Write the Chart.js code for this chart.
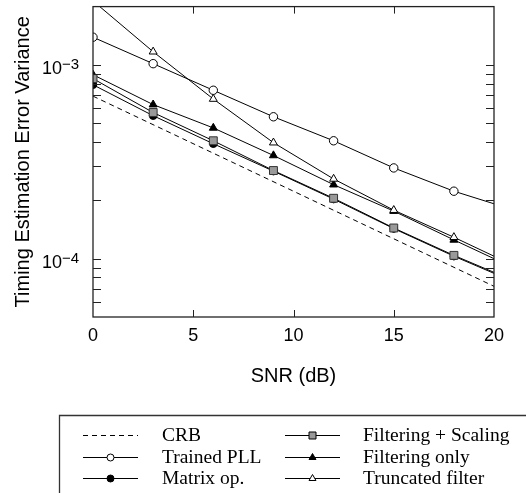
<!DOCTYPE html>
<html>
<head>
<meta charset="utf-8">
<script src="https://cdn.jsdelivr.net/npm/chart.js@4.4.1/dist/chart.umd.min.js"></script>
<style>
  html, body { margin: 0; padding: 0; background: #fff; }
  #wrap { width: 526px; height: 493px; position: relative; }
</style>
</head>
<body>
<div id="wrap"><canvas id="chart"></canvas></div>
<script>
// values (SNR in dB, variance)
const SNR = [0, 3, 6, 9, 12, 15, 18, 20];
const CRB_SNR = [0, 20];
const crb = [6.9e-4, 7.2e-5];
const trainedPll = [1.39e-3, 1.015e-3, 7.4e-4, 5.4e-4, 4.06e-4, 2.94e-4, 2.23e-4, 1.92e-4];
const matrixOp = [7.9e-4, 5.47e-4, 3.92e-4, 2.83e-4, 2.03e-4, 1.43e-4, 1.03e-4, 8.4e-5];
const filtScaling = [8.5e-4, 5.68e-4, 4.06e-4, 2.85e-4, 2.05e-4, 1.44e-4, 1.04e-4, 8.5e-5];
const filtOnly = [8.9e-4, 6.24e-4, 4.73e-4, 3.41e-4, 2.41e-4, 1.76e-4, 1.25e-4, 1.0e-4];
const truncated = [2.14e-3, 1.17e-3, 6.67e-4, 3.97e-4, 2.58e-4, 1.78e-4, 1.29e-4, 1.03e-4];

const X_TICKS = [5, 10, 15];
const Y_DECADES = [1e-4, 1e-3];
const Y_MINOR = [6e-5, 7e-5, 8e-5, 9e-5, 2e-4, 3e-4, 4e-4, 5e-4, 6e-4, 7e-4, 8e-4, 9e-4];

const pts = (xs, ys) => xs.map((x, i) => ({ x, y: ys[i] }));
// no marker at the clipped start / at the 20 dB line end
const radii = (r, skip) => SNR.map((x, i) => (skip.includes(i) ? 0 : r));

const base = { borderColor: "#000", borderWidth: 1, pointBorderColor: "#000", pointBorderWidth: 1 };
const datasets = [
  { ...base, label: "CRB", data: pts(CRB_SNR, crb), borderDash: [5, 4], pointRadius: 0, order: 6 },
  { ...base, label: "Trained PLL", data: pts(SNR, trainedPll), pointStyle: "circle", pointRadius: radii(4.2, [7]), pointBackgroundColor: "#fff", order: 5 },
  { ...base, label: "Matrix op.", data: pts(SNR, matrixOp), pointStyle: "circle", pointRadius: radii(3.8, [7]), pointBackgroundColor: "#000", order: 4 },
  { ...base, label: "Filtering + Scaling", data: pts(SNR, filtScaling), pointStyle: "rect", pointRadius: radii(5.6, [7]), pointBackgroundColor: "#999", pointBorderColor: "#333", order: 1 },
  { ...base, label: "Filtering only", data: pts(SNR, filtOnly), pointStyle: "triangle", pointRadius: radii(4.6, [7]), pointBackgroundColor: "#000", order: 3 },
  { ...base, label: "Truncated filter", data: pts(SNR, truncated), pointStyle: "triangle", pointRadius: radii(4.6, [0, 7]), pointBackgroundColor: "#fff", order: 2 },
];

const SANS = "'Liberation Sans', Arial, Helvetica, sans-serif";
const SERIF = "'Liberation Serif', 'Times New Roman', serif";

function marker(ctx, style, fill, x, y, r) {
  ctx.save();
  ctx.fillStyle = fill; ctx.strokeStyle = "#000"; ctx.lineWidth = 1;
  ctx.beginPath();
  if (style === "circle") ctx.arc(x, y, r, 0, Math.PI * 2);
  else if (style === "rect") ctx.rect(x - r, y - r, 2 * r, 2 * r);
  else if (style === "triangle") {
    ctx.moveTo(x, y - r); ctx.lineTo(x + r * 0.87, y + r * 0.5); ctx.lineTo(x - r * 0.87, y + r * 0.5); ctx.closePath();
  }
  ctx.fill(); ctx.stroke();
  ctx.restore();
}

// frame, inward ticks, 10^n labels and the boxed legend
const decor = {
  id: "decor",
  afterDraw(chart) {
    const { ctx, chartArea: a, scales: { x, y } } = chart;
    ctx.save();
    ctx.strokeStyle = "#222"; ctx.lineWidth = 1.3;
    ctx.strokeRect(a.left, a.top, a.right - a.left, a.bottom - a.top);
    ctx.lineWidth = 1;
    ctx.beginPath();
    X_TICKS.forEach((v) => {
      const px = Math.round(x.getPixelForValue(v)) + 0.5;
      ctx.moveTo(px, a.bottom); ctx.lineTo(px, a.bottom - 7);
      ctx.moveTo(px, a.top); ctx.lineTo(px, a.top + 7);
    });
    [...Y_DECADES, ...Y_MINOR].forEach((v) => {
      const py = Math.round(y.getPixelForValue(v)) + 0.5;
      ctx.moveTo(a.left, py); ctx.lineTo(a.left + 8, py);
      ctx.moveTo(a.right, py); ctx.lineTo(a.right - 8, py);
    });
    ctx.stroke();

    // y labels as 10 with a raised exponent
    ctx.fillStyle = "#000";
    Y_DECADES.forEach((v) => {
      const py = y.getPixelForValue(v);
      const exp = Math.round(Math.log10(v));
      ctx.font = "18px " + SANS;
      ctx.textAlign = "right"; ctx.textBaseline = "alphabetic";
      ctx.fillText("10", 62, py + 9);
      ctx.font = "15px " + SANS;
      ctx.textAlign = "left";
      ctx.fillText("\u2212" + Math.abs(exp), 62, py + 4);
    });

    // legend box
    ctx.strokeStyle = "#333"; ctx.lineWidth = 1.3;
    ctx.beginPath();
    ctx.moveTo(530, 415.5); ctx.lineTo(59.5, 415.5); ctx.lineTo(59.5, 495);
    ctx.stroke();
    const cols = [{ s0: 83, s1: 138, tx: 162 }, { s0: 285, s1: 340, tx: 363 }];
    const rows = [435, 457, 478];
    chart.data.datasets.forEach((ds, i) => {
      const c = cols[Math.floor(i / 3)], ry = rows[i % 3];
      ctx.save();
      ctx.strokeStyle = "#000"; ctx.lineWidth = 1;
      ctx.setLineDash(ds.borderDash || []);
      ctx.beginPath(); ctx.moveTo(c.s0, ry + 0.5); ctx.lineTo(c.s1, ry + 0.5); ctx.stroke();
      ctx.restore();
      if (ds.pointStyle) {
        const r = ds.pointStyle === "rect" ? 3.5 : ds.pointStyle === "triangle" ? 4 : 3.5;
        marker(ctx, ds.pointStyle, ds.pointBackgroundColor, (c.s0 + c.s1) / 2, ry + 0.5, r);
      }
      ctx.fillStyle = "#000";
      ctx.font = "19.5px " + SERIF;
      ctx.textAlign = "left"; ctx.textBaseline = "middle";
      ctx.fillText(ds.label, c.tx, ry + 1);
    });
    ctx.restore();
  },
};

new Chart(document.getElementById("chart"), {
  type: "line",
  data: { datasets },
  plugins: [decor],
  options: {
    responsive: true,
    maintainAspectRatio: false,
    animation: false,
    layout: { padding: { top: 5, right: 32, bottom: 100, left: 0 } },
    plugins: { legend: { display: false }, tooltip: { enabled: false } },
    elements: { line: { tension: 0 } },
    scales: {
      x: {
        type: "linear", min: 0, max: 20,
        grid: { display: false }, border: { display: false },
        ticks: { stepSize: 5, color: "#000", font: { family: SANS, size: 18 }, padding: 0, maxRotation: 0 },
        title: { display: true, text: "SNR (dB)", color: "#000", font: { family: SANS, size: 20 }, padding: { top: 0, bottom: 5 } },
        afterFit: (s) => { s.height = 76; },
      },
      y: {
        type: "logarithmic", min: 5e-5, max: 2e-3,
        grid: { display: false }, border: { display: false },
        ticks: { display: false },
        title: { display: true, text: "Timing Estimation Error Variance", color: "#000", font: { family: SANS, size: 20 }, padding: { top: 11, bottom: 0 } },
        afterFit: (s) => { s.width = 93; },
      },
    },
  },
});
</script>
</body>
</html>
